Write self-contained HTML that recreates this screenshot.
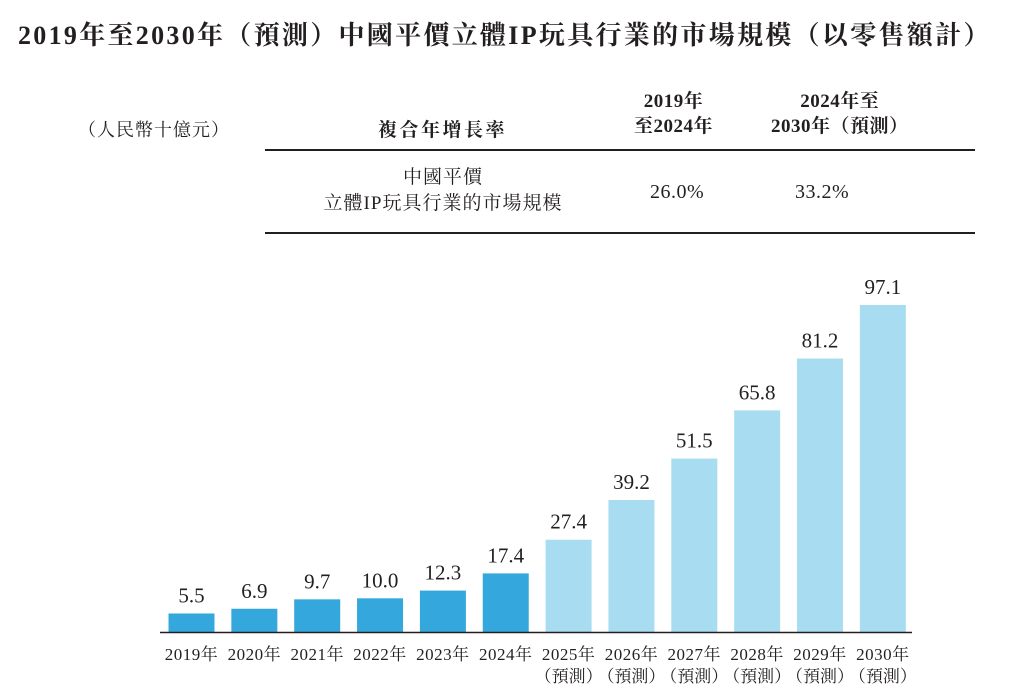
<!DOCTYPE html>
<html><head><meta charset="utf-8"><style>
body{margin:0;background:#fff;width:1010px;height:691px;overflow:hidden;font-family:"Liberation Serif","Noto Serif CJK SC",serif;color:#231f20}
.t{position:absolute;white-space:nowrap}
</style></head><body>
<div class="t" style="left:18px;top:15px;font-size:26px;font-weight:bold;letter-spacing:2.3px">2019年至2030年（預測）中國平價立體IP玩具行業的市場規模（以零售額計）</div>
<div class="t" style="left:78px;top:116px;font-size:18px;letter-spacing:1px">（人民幣十億元）</div>
<div class="t" style="left:378px;top:115px;font-size:19px;font-weight:bold;letter-spacing:2.5px">複合年增長率</div>
<div class="t" style="left:634px;top:89px;font-size:19px;font-weight:bold;text-align:center;line-height:25px;letter-spacing:0.5px">2019年<br>至2024年</div>
<div class="t" style="left:771px;top:89px;font-size:19px;font-weight:bold;text-align:center;line-height:25px;letter-spacing:0.5px">2024年至<br>2030年（預測）</div>
<div style="position:absolute;left:265px;top:149px;width:710px;height:2px;background:#231f20"></div>
<div class="t" style="left:300px;top:165px;width:286px;font-size:19px;text-align:center;line-height:26px;letter-spacing:1px">中國平價<br>立體IP玩具行業的市場規模</div>
<div class="t" style="left:650px;top:181px;font-size:20px;letter-spacing:0.5px">26.0%</div>
<div class="t" style="left:795px;top:181px;font-size:20px;letter-spacing:0.5px">33.2%</div>
<div style="position:absolute;left:265px;top:232px;width:710px;height:2px;background:#231f20"></div>
<svg id="chart" width="1010" height="691" style="position:absolute;left:0;top:0"></svg>
<script>
const categories=["2019年","2020年","2021年","2022年","2023年","2024年","2025年","2026年","2027年","2028年","2029年","2030年"];
const values=[5.5,6.9,9.7,10.0,12.3,17.4,27.4,39.2,51.5,65.8,81.2,97.1];
const labels=["5.5","6.9","9.7","10.0","12.3","17.4","27.4","39.2","51.5","65.8","81.2","97.1"];
const forecast=[false,false,false,false,false,false,true,true,true,true,true,true];
const svg=document.getElementById('chart');const NS='http://www.w3.org/2000/svg';
const base=632,scale=327/97.1,x0=191.5,step=62.85,bw=46;
const xAt=i=>x0+i*step, yAt=v=>base-v*scale;
function mk(t,a){const e=document.createElementNS(NS,t);for(const k in a)e.setAttribute(k,a[k]);svg.appendChild(e);return e;}
categories.forEach((c,i)=>{
 const r=mk('rect',{x:xAt(i)-bw/2,y:yAt(values[i]),width:bw,height:base-yAt(values[i]),fill:forecast[i]?'#a7dcf1':'#34a8dc'});
 
 
 const v=mk('text',{x:xAt(i),y:yAt(values[i])-11,'text-anchor':'middle','font-size':21,fill:'#231f20'});
 v.textContent=labels[i];
 
 
 const l=mk('text',{x:xAt(i),y:660,'text-anchor':'middle','font-size':17,'letter-spacing':0.5,fill:'#231f20'});
 l.textContent=c;
 
 
 if(forecast[i]){const f=mk('text',{x:xAt(i),y:682,'text-anchor':'middle','font-size':17,fill:'#231f20'});f.textContent='（預測）';
 
 }
});
const ax=mk('line',{x1:160,x2:912,y1:base+0.5,y2:base+0.5,stroke:'#231f20','stroke-width':1.5});


</script>
</body></html>
